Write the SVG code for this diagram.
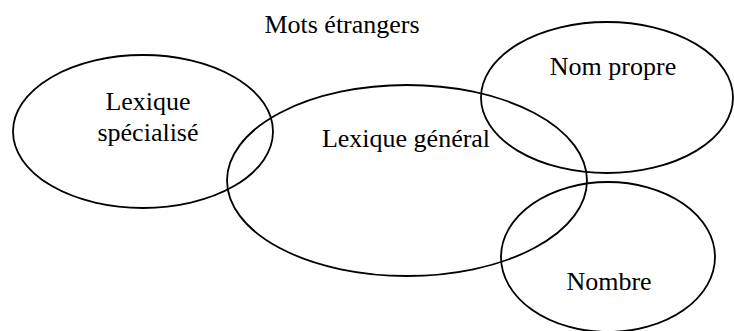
<svg xmlns="http://www.w3.org/2000/svg" width="734" height="331" viewBox="0 0 734 331">
<style>
.e{fill:none;stroke:#000;stroke-width:1.8}
text{font-family:'Liberation Serif','DejaVu Serif','Times New Roman',serif;font-size:26px;fill:#000;text-anchor:middle}
</style>
<rect width="734" height="331" fill="#fff"/>
<g id="title"><text x="342" y="33">Mots étrangers</text></g>
<g id="lexique-specialise">
<ellipse class="e" cx="143" cy="131.5" rx="130" ry="76.5"/>
<text x="148" y="110">Lexique</text>
<text x="148" y="140.5">spécialisé</text>
</g>
<g id="lexique-general">
<ellipse class="e" cx="407" cy="180.5" rx="180" ry="95.5"/>
<text x="406" y="146.5">Lexique général</text>
</g>
<g id="nom-propre">
<ellipse class="e" cx="607" cy="97.5" rx="126" ry="75.5"/>
<text x="613" y="75">Nom propre</text>
</g>
<g id="nombre">
<ellipse class="e" cx="608" cy="257" rx="107" ry="75"/>
<text x="609" y="290">Nombre</text>
</g>
<g id="connectors"></g>
</svg>
